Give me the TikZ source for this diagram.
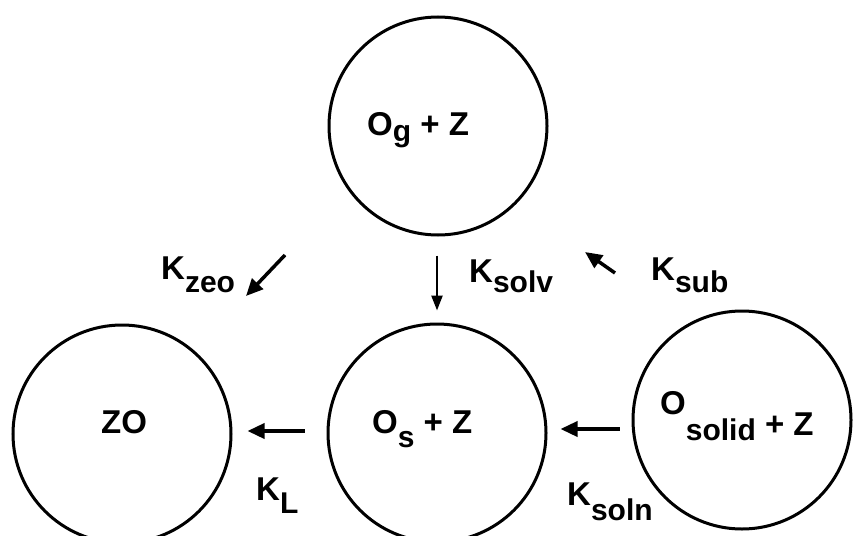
\documentclass[tikz,border=0pt]{standalone}
\usepackage{fontspec}
\setmainfont{Liberation Sans}
\usetikzlibrary{arrows.meta}
\newcommand{\subtxt}[2][11pt]{\raisebox{-#1}{\fontsize{30}{32}\selectfont #2}}

\begin{document}
\begin{tikzpicture}
  [x=1pt,y=-1pt,
   every node/.style={font=\fontsize{33}{38}\selectfont\bfseries,inner sep=0pt},
   state/.style={circle,draw,line width=3pt,minimum size=218pt},
   lbl/.style={anchor=base west},
   rate/.style={line width=3.5pt,-{Triangle[length=17pt,width=15pt]}}]
  \useasboundingbox (0,0) rectangle (853,535);
  \clip (0,0) rectangle (853,535);

  \node[state] (og)    at (438,126) {};
  \node[state] (zo)    at (122,434) {};
  \node[state] (os)    at (437,433) {};
  \node[state] (solid) at (742,420) {};

  \node[lbl] (og-t)    at (367,135) {O\subtxt[6pt]{g} + Z};
  \node[lbl] (zo-t)    at (101,433) {ZO};
  \node[lbl] (os-t)    at (372,433) {O\subtxt[14pt]{s} + Z};
  \node[lbl] (solid-t) at (660,435) {\raisebox{21pt}{O}\subtxt[5pt]{solid} + Z};

  \node[lbl] (kzeo)  at (161,279) {K\subtxt[13pt]{zeo}};
  \node[lbl] (ksolv) at (469,282) {K\subtxt[10pt]{solv}};
  \node[lbl] (ksub)  at (651,280) {K\subtxt[12pt]{sub}};
  \node[lbl] (kl)    at (256,500) {K\subtxt[13pt]{L}};
  \node[lbl] (ksoln) at (567,505) {K\subtxt[15pt]{soln}};

  \coordinate (zeo-a) at (285,255);
  \coordinate (zeo-b) at (246,296);
  \coordinate (sub-a) at (615,273);
  \coordinate (sub-b) at (585,252);

  \draw[rate] (zeo-a) -- (zeo-b);
  \draw[rate] (sub-a) -- (sub-b);
  \draw[line width=2.4pt,-{Triangle[length=15pt,width=11pt]},
        shorten <=19pt,shorten >=12pt] ([xshift=-1pt]og.south) -- (os.north);
  \draw[rate,shorten <=22pt,shorten >=15pt]
    ([yshift=2pt]os.west) -- ([yshift=3pt]zo.east);
  \draw[rate,shorten <=12pt,shorten >=13pt]
    ([yshift=-9pt]solid.west) -- ([yshift=4pt]os.east);

\end{tikzpicture}
\end{document}
